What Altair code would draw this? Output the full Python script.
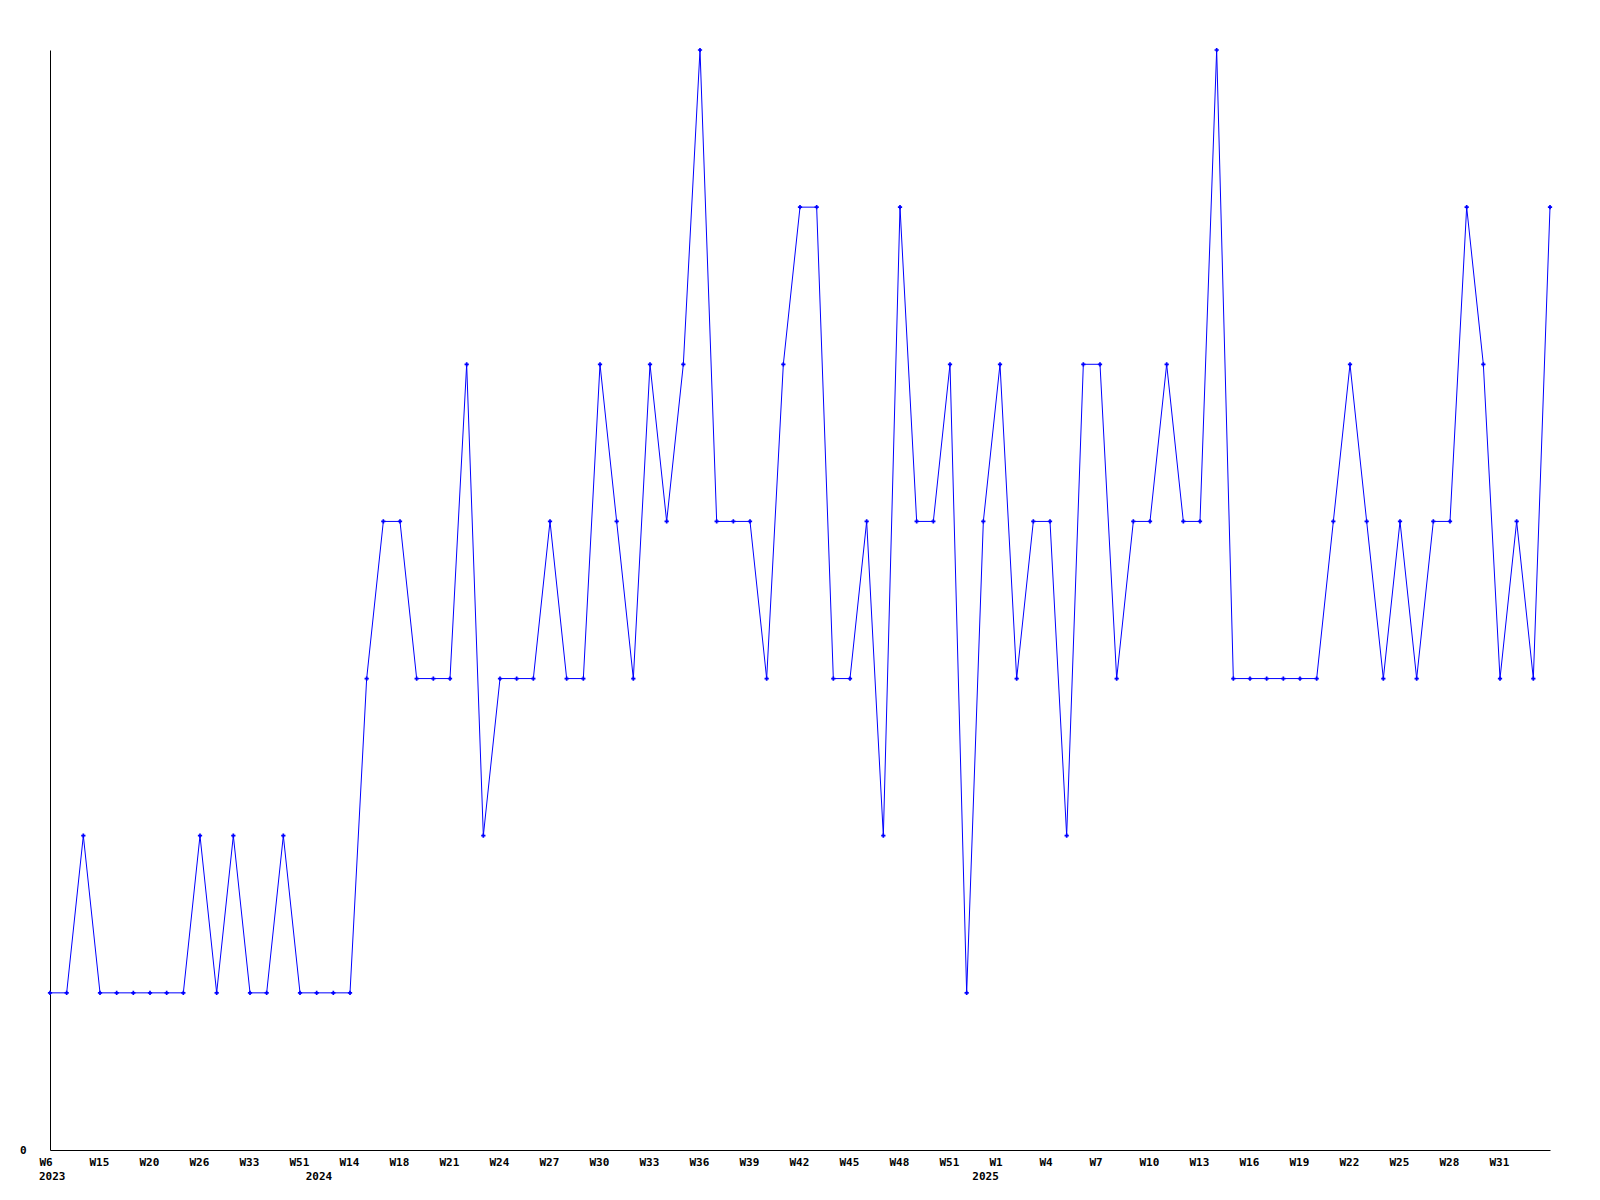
import json
import altair as alt
import pandas as pd

# Week categories (one per data point, in order)
weeks = [
    "W6", "W9", "W12", "W15", "W17", "W18", "W20", "W22", "W24", "W26",
    "W28", "W31", "W33", "W38", "W44", "W51",
    "W3", "W9", "W14", "W15", "W16",
    "W18", "W19", "W20", "W21", "W22", "W23", "W24", "W25", "W26", "W27",
    "W28", "W29", "W30", "W31", "W32", "W33", "W34", "W35", "W36", "W37",
    "W38", "W39", "W40", "W41", "W42", "W43", "W44", "W45", "W46", "W47",
    "W48", "W49", "W50", "W51", "W52", "W53",
    "W1", "W2", "W3", "W4", "W5", "W6", "W7", "W8", "W9", "W10",
    "W11", "W12", "W13", "W14", "W15", "W16", "W17", "W18", "W19", "W20",
    "W21", "W22", "W23", "W24", "W25", "W26", "W27", "W28", "W29", "W30",
    "W31", "W32", "W33", "W34",
]

values = [
    1, 1, 2, 1, 1, 1, 1, 1, 1, 2,
    1, 2, 1, 1, 2, 1, 1, 1, 1, 3,
    4, 4, 3, 3, 3, 5, 2, 3, 3, 3,
    4, 3, 3, 5, 4, 3, 5, 4, 5, 7,
    4, 4, 4, 3, 5, 6, 6, 3, 3, 4,
    2, 6, 4, 4, 5, 1, 4, 5, 3, 4,
    4, 2, 5, 5, 3, 4, 4, 5, 4, 4,
    7, 3, 3, 3, 3, 3, 3, 4, 5, 4,
    3, 4, 3, 4, 4, 6, 5, 3, 4, 3,
    6,
]

# Positions (point index) of the labelled weeks
label_idx = list(range(0, 88, 3))

# First point of each year
year_start_idx = [0, 16, 56]
year_names = ["2023", "2024", "2025"]

df = pd.DataFrame({"idx": list(range(len(values))), "week": weeks, "value": values})
years_df = pd.DataFrame({"idx": year_start_idx, "year": year_names})

FONT = "DejaVu Sans Mono"
W, H = 1500, 1100
n = len(values)

label_expr = json.dumps(weeks) + "[datum.value]"

x_scale = alt.Scale(domain=[0, n - 1], nice=False, zero=False)
y_scale = alt.Scale(domain=[0, 7], nice=False, zero=True)

x_axis = alt.Axis(
    values=label_idx,
    labelExpr=label_expr,
    title=None,
    grid=False,
    ticks=False,
    labelOverlap=False,
    labelFlush=False,
    labelBound=False,
    labelAlign="left",
    labelBaseline="top",
    labelOffset=-11,
    labelPadding=6,
    labelFont=FONT,
    labelFontWeight="bold",
    labelFontSize=11,
    labelColor="black",
    domainColor="black",
    domainWidth=1,
)

y_axis = alt.Axis(
    values=[0],
    format="d",
    title=None,
    grid=False,
    ticks=False,
    labelPadding=24,
    labelFont=FONT,
    labelFontWeight="bold",
    labelFontSize=11,
    labelColor="black",
    domainColor="black",
    domainWidth=1,
)

line = alt.Chart(df).mark_line(color="#0000ff", strokeWidth=1).encode(
    x=alt.X("idx:Q", scale=x_scale, axis=x_axis),
    y=alt.Y("value:Q", scale=y_scale, axis=y_axis),
)

pts = alt.Chart(df).mark_point(
    shape="cross", filled=True, color="#0000ff", size=18, opacity=1
).encode(
    x=alt.X("idx:Q", scale=x_scale),
    y=alt.Y("value:Q", scale=y_scale),
)

yrs = alt.Chart(years_df).mark_text(
    font=FONT, fontWeight="bold", fontSize=11, color="black",
    align="left", baseline="middle", dx=-11,
).encode(
    x=alt.X("idx:Q", scale=x_scale),
    y=alt.value(H + 27),
    text="year:N",
)

chart = (
    alt.layer(line, pts, yrs)
    .properties(
        width=W,
        height=H,
        autosize=alt.AutoSizeParams(type="none"),
        padding={"left": 42, "top": 42, "right": 42, "bottom": 42},
        background="white",
    )
    .configure_view(stroke=None)
)

chart.save("out.html", embed_options={"renderer": "svg", "actions": False})
